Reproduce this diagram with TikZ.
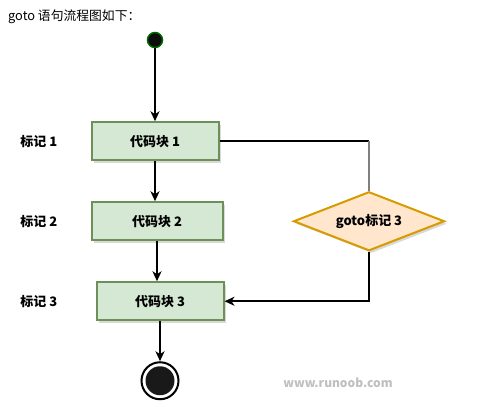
\documentclass[tikz,border=0pt]{standalone}
\usepackage{fontspec}
\setmainfont{Noto Sans CJK SC}
\usepackage{tikz}
\usetikzlibrary{positioning, shapes, arrows.meta, calc, shadows}

\definecolor{boxfill}{HTML}{D5E8D4}
\definecolor{boxline}{HTML}{6D8F58}
\definecolor{gofill}{HTML}{FFE6CC}
\definecolor{goline}{HTML}{D79B00}

\begin{document}
\begin{tikzpicture}[
        x=1pt, y=-1pt,
        box/.style={draw=boxline, fill=boxfill, line width=2pt, rectangle, minimum width=127pt, minimum height=38pt, font=\fontsize{13}{15}\selectfont\bfseries,
            drop shadow={shadow xshift=2.5pt, shadow yshift=-2.5pt, fill=black!25, opacity=0.6}},
        tag/.style={inner sep=0pt, font=\fontsize{13}{15}\selectfont\bfseries},
        arrow/.style={-{Stealth[length=10pt, width=9pt, inset=3pt]}, line width=2pt}
    ]
    \useasboundingbox (0,0) rectangle (480,407);

    % Title
    \node[anchor=west, inner sep=0pt, font=\fontsize{12.8}{15}\selectfont] (title) at (8,17) {goto 语句流程图如下：};

    % Blocks
    \node[circle, draw=black!60!green, fill=black!95, line width=1.5pt, minimum size=15pt, inner sep=0pt] (start) at (155,40) {};
    \node[box, below=73pt of start] (b1) {代码块 1};
    \node[box, below=40pt of b1, xshift=2pt, minimum width=131pt] (b2) {代码块 2};
    \node[box, below=40pt of b2, xshift=3pt] (b3) {代码块 3};
    \node[circle, draw, fill=white, line width=2pt, minimum size=37pt, inner sep=0pt, below=40pt of b3] (stop) {};
    \node[circle, fill=black!90, minimum size=29pt, inner sep=0pt] (stopdot) at (stop) {};

    % Labels
    \node[tag, left=33pt of b1] (m1) {标记 1};
    \node[tag] (m2) at (m1 |- b2) {标记 2};
    \node[tag] (m3) at (m1 |- b3) {标记 3};

    % Goto
    \node[diamond, shape aspect=2.5, draw=goline, fill=gofill, line width=2pt, minimum width=151pt, minimum height=59pt, inner sep=0pt, right=69pt of b2,
        font=\fontsize{13}{15}\selectfont\bfseries,
        drop shadow={shadow xshift=2.5pt, shadow yshift=-2.5pt, fill=black!25, opacity=0.6}] (goto) {goto标记 3};
    \coordinate (turn) at (b1.east -| goto.north);

    % Arrows
    \draw[arrow] (start) -- (b1);
    \draw[arrow] (b1) -- (b1 |- b2.north);
    \draw[arrow] (b2) -- (b2 |- b3.north);
    \draw[arrow] (b3) -- (b3 |- stop.north);
    \draw[line width=2pt] (b1.east) -- (turn);
    \draw[line width=2pt, black!50] (turn) -- (goto.north);
    \draw[arrow] (goto.south) |- (b3.east);

    \node[font=\fontsize{12}{14}\selectfont\bfseries, text=black!25] (site) at (338,383) {www.runoob.com};
    \end{tikzpicture}
\end{document}
